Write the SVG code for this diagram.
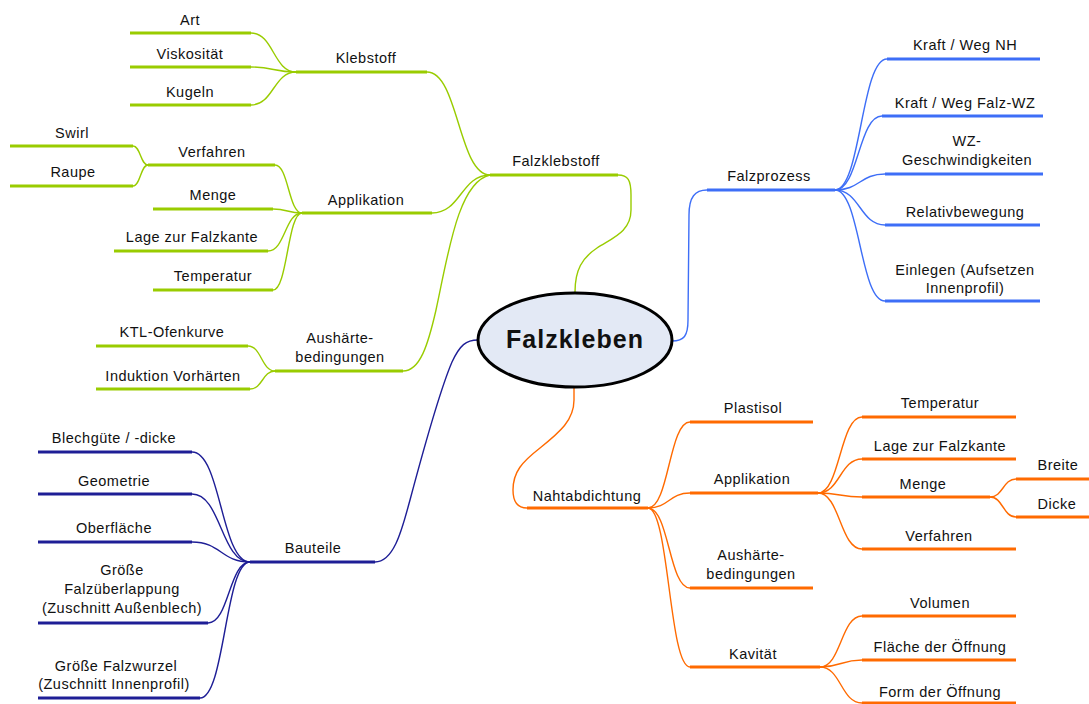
<svg xmlns="http://www.w3.org/2000/svg" width="1089" height="704" viewBox="0 0 1089 704">
<style>
  text { font-family: "Liberation Sans", Arial, sans-serif; font-size: 14.5px; letter-spacing: 0.5px; fill: #111; text-anchor: middle; }
  .title { font-size: 25px; font-weight: bold; letter-spacing: 1px; }
  .conn { fill: none; stroke-width: 1.4; }
  .ul { stroke-width: 3; fill: none; }
  .green { stroke: #99cc00; }
  .blue { stroke: #3d6ef7; }
  .navy { stroke: #1e1e96; }
  .orange { stroke: #ff6a00; }
</style>
<rect width="1089" height="704" fill="#ffffff"/>

<g id="connectors">
  <!-- green -->
  <path class="conn green" d="M575,292 C575,270 582,258 597,248 C612,238 631,232 631,210 L631,195 C631,180 628,175 618,175"/>
  <path class="conn green" d="M427,72 C458.5,72 458.5,175 490,175"/>
  <path class="conn green" d="M432,213 C461,213 461,175 490,175"/>
  <path class="conn green" d="M403,371 C420,371 428,345 436,310 C448,255 458,182 490,175"/>
  <path class="conn green" d="M251,33 C273.5,33 273.5,72 296,72"/>
  <path class="conn green" d="M251,67 C273.5,67 273.5,72 296,72"/>
  <path class="conn green" d="M251,105 C273.5,105 273.5,72 296,72"/>
  <path class="conn green" d="M133,146 C140.5,146 140.5,165 148,165"/>
  <path class="conn green" d="M133,186 C140.5,186 140.5,165 148,165"/>
  <path class="conn green" d="M275,165 C288.5,165 288.5,213 302,213"/>
  <path class="conn green" d="M273,209 C287.5,209 287.5,213 302,213"/>
  <path class="conn green" d="M268,251 C285,251 285,213 302,213"/>
  <path class="conn green" d="M273,290 C287.5,290 287.5,213 302,213"/>
  <path class="conn green" d="M248,346 C261.5,346 261.5,371 275,371"/>
  <path class="conn green" d="M250,389 C262.5,389 262.5,371 275,371"/>
  <!-- blue -->
  <path class="conn blue" d="M672,341 C684,341 688,336 688,320 L689,215 C689,197 695,190 707,190"/>
  <path class="conn blue" d="M835,190 C861,190 861,59 887,59"/>
  <path class="conn blue" d="M835,190 C858.5,190 858.5,116 882,116"/>
  <path class="conn blue" d="M835,190 C860,190 860,174 885,174"/>
  <path class="conn blue" d="M835,190 C860,190 860,225 885,225"/>
  <path class="conn blue" d="M835,190 C860,190 860,301 885,301"/>
  <!-- navy -->
  <path class="conn navy" d="M478,340 C466,340 460,345 452,362 C440,390 422,455 410,500 C403,525 395,562 375,562"/>
  <path class="conn navy" d="M192,452 C221,452 221,562 250,562"/>
  <path class="conn navy" d="M192,494 C221,494 221,562 250,562"/>
  <path class="conn navy" d="M192,542 C221,542 221,562 250,562"/>
  <path class="conn navy" d="M208,623 C229,623 229,562 250,562"/>
  <path class="conn navy" d="M200,698 C225,698 225,562 250,562"/>
  <!-- orange -->
  <path class="conn orange" d="M574,387 L574,400 C574,420 560,432 540,448 C522,462 513,472 513,490 C513,502 517,508 527,508"/>
  <path class="conn orange" d="M648,508 C669,508 669,422 690,422"/>
  <path class="conn orange" d="M648,508 C669,508 669,493 690,493"/>
  <path class="conn orange" d="M648,508 C669,508 669,588 690,588"/>
  <path class="conn orange" d="M648,508 C669,508 669,667 690,667"/>
  <path class="conn orange" d="M818,493 C840,493 840,417 862,417"/>
  <path class="conn orange" d="M818,493 C840,493 840,459 862,459"/>
  <path class="conn orange" d="M818,493 C840,493 840,497 862,497"/>
  <path class="conn orange" d="M818,493 C840,493 840,549 862,549"/>
  <path class="conn orange" d="M990,497 C1003,497 1003,479 1016,479"/>
  <path class="conn orange" d="M990,497 C1003,497 1003,517 1016,517"/>
  <path class="conn orange" d="M820,667 C841,667 841,616 862,616"/>
  <path class="conn orange" d="M820,667 C841,667 841,660 862,660"/>
  <path class="conn orange" d="M820,667 C841,667 841,703 862,703"/>
</g>

<g id="center">
  <ellipse cx="575" cy="340" rx="97" ry="47" fill="#e3e9f5" stroke="#000" stroke-width="3"/>
  <text class="title" x="575" y="348">Falzkleben</text>
</g>

<!-- green nodes -->
<g id="g-falzklebstoff"><line class="ul green" x1="490" y1="175" x2="618" y2="175"/><text x="556" y="166">Falzklebstoff</text></g>
<g id="g-klebstoff"><line class="ul green" x1="296" y1="72" x2="427" y2="72"/><text x="366" y="63">Klebstoff</text></g>
<g id="g-art"><line class="ul green" x1="130" y1="33" x2="251" y2="33"/><text x="190" y="25">Art</text></g>
<g id="g-viskositaet"><line class="ul green" x1="130" y1="67" x2="251" y2="67"/><text x="190" y="59">Viskosität</text></g>
<g id="g-kugeln"><line class="ul green" x1="130" y1="105" x2="251" y2="105"/><text x="190" y="97">Kugeln</text></g>
<g id="g-applikation"><line class="ul green" x1="302" y1="213" x2="432" y2="213"/><text x="366" y="205">Applikation</text></g>
<g id="g-verfahren"><line class="ul green" x1="148" y1="165" x2="275" y2="165"/><text x="212" y="157">Verfahren</text></g>
<g id="g-swirl"><line class="ul green" x1="10" y1="146" x2="133" y2="146"/><text x="72" y="138">Swirl</text></g>
<g id="g-raupe"><line class="ul green" x1="10" y1="186" x2="133" y2="186"/><text x="73" y="177">Raupe</text></g>
<g id="g-menge"><line class="ul green" x1="153" y1="209" x2="273" y2="209"/><text x="213" y="200">Menge</text></g>
<g id="g-lage"><line class="ul green" x1="114" y1="251" x2="268" y2="251"/><text x="192" y="242">Lage zur Falzkante</text></g>
<g id="g-temperatur"><line class="ul green" x1="153" y1="290" x2="273" y2="290"/><text x="213" y="281">Temperatur</text></g>
<g id="g-aushaerte"><line class="ul green" x1="275" y1="371" x2="403" y2="371"/><text x="340" y="343">Aushärte-</text><text x="340" y="362">bedingungen</text></g>
<g id="g-ktl"><line class="ul green" x1="96" y1="346" x2="248" y2="346"/><text x="172" y="337">KTL-Ofenkurve</text></g>
<g id="g-induktion"><line class="ul green" x1="96" y1="389" x2="250" y2="389"/><text x="173" y="381">Induktion Vorhärten</text></g>

<!-- blue nodes -->
<g id="b-falzprozess"><line class="ul blue" x1="707" y1="190" x2="835" y2="190"/><text x="769" y="181">Falzprozess</text></g>
<g id="b-kraft-nh"><line class="ul blue" x1="887" y1="59" x2="1040" y2="59"/><text x="965" y="50">Kraft / Weg NH</text></g>
<g id="b-kraft-falz"><line class="ul blue" x1="882" y1="116" x2="1043" y2="116"/><text x="965" y="108">Kraft / Weg Falz-WZ</text></g>
<g id="b-wz"><line class="ul blue" x1="885" y1="174" x2="1043" y2="174"/><text x="967" y="146">WZ-</text><text x="967" y="165">Geschwindigkeiten</text></g>
<g id="b-relativ"><line class="ul blue" x1="885" y1="225" x2="1040" y2="225"/><text x="965" y="217">Relativbewegung</text></g>
<g id="b-einlegen"><line class="ul blue" x1="885" y1="301" x2="1040" y2="301"/><text x="965" y="275">Einlegen (Aufsetzen</text><text x="965" y="293">Innenprofil)</text></g>

<!-- navy nodes -->
<g id="n-bauteile"><line class="ul navy" x1="250" y1="562" x2="375" y2="562"/><text x="313" y="553">Bauteile</text></g>
<g id="n-blech"><line class="ul navy" x1="38" y1="452" x2="192" y2="452"/><text x="114" y="443">Blechgüte / -dicke</text></g>
<g id="n-geometrie"><line class="ul navy" x1="38" y1="494" x2="192" y2="494"/><text x="114" y="486">Geometrie</text></g>
<g id="n-oberflaeche"><line class="ul navy" x1="38" y1="542" x2="192" y2="542"/><text x="114" y="533">Oberfläche</text></g>
<g id="n-groesse-ueberlappung"><line class="ul navy" x1="38" y1="623" x2="208" y2="623"/><text x="122" y="575">Größe</text><text x="122" y="594">Falzüberlappung</text><text x="122" y="613">(Zuschnitt Außenblech)</text></g>
<g id="n-groesse-wurzel"><line class="ul navy" x1="38" y1="698" x2="200" y2="698"/><text x="116" y="671">Größe Falzwurzel</text><text x="114" y="689">(Zuschnitt Innenprofil)</text></g>

<!-- orange nodes -->
<g id="o-naht"><line class="ul orange" x1="527" y1="508" x2="648" y2="508"/><text x="587" y="501">Nahtabdichtung</text></g>
<g id="o-plastisol"><line class="ul orange" x1="690" y1="422" x2="813" y2="422"/><text x="753" y="413">Plastisol</text></g>
<g id="o-applikation"><line class="ul orange" x1="690" y1="493" x2="818" y2="493"/><text x="752" y="484">Applikation</text></g>
<g id="o-aushaerte"><line class="ul orange" x1="690" y1="588" x2="813" y2="588"/><text x="751" y="560">Aushärte-</text><text x="751" y="579">bedingungen</text></g>
<g id="o-kavitaet"><line class="ul orange" x1="690" y1="667" x2="820" y2="667"/><text x="753" y="659">Kavität</text></g>
<g id="o-temperatur"><line class="ul orange" x1="862" y1="417" x2="1016" y2="417"/><text x="940" y="408">Temperatur</text></g>
<g id="o-lage"><line class="ul orange" x1="862" y1="459" x2="1016" y2="459"/><text x="940" y="451">Lage zur Falzkante</text></g>
<g id="o-menge"><line class="ul orange" x1="862" y1="497" x2="990" y2="497"/><text x="923" y="489">Menge</text></g>
<g id="o-breite"><line class="ul orange" x1="1016" y1="479" x2="1089" y2="479"/><text x="1058" y="470">Breite</text></g>
<g id="o-dicke"><line class="ul orange" x1="1016" y1="517" x2="1089" y2="517"/><text x="1057" y="509">Dicke</text></g>
<g id="o-verfahren"><line class="ul orange" x1="862" y1="549" x2="1016" y2="549"/><text x="939" y="541">Verfahren</text></g>
<g id="o-volumen"><line class="ul orange" x1="862" y1="616" x2="1016" y2="616"/><text x="940" y="608">Volumen</text></g>
<g id="o-flaeche"><line class="ul orange" x1="862" y1="660" x2="1016" y2="660"/><text x="940" y="652">Fläche der Öffnung</text></g>
<g id="o-form"><line class="ul orange" x1="862" y1="703" x2="1016" y2="703"/><text x="940" y="697">Form der Öffnung</text></g>
</svg>
